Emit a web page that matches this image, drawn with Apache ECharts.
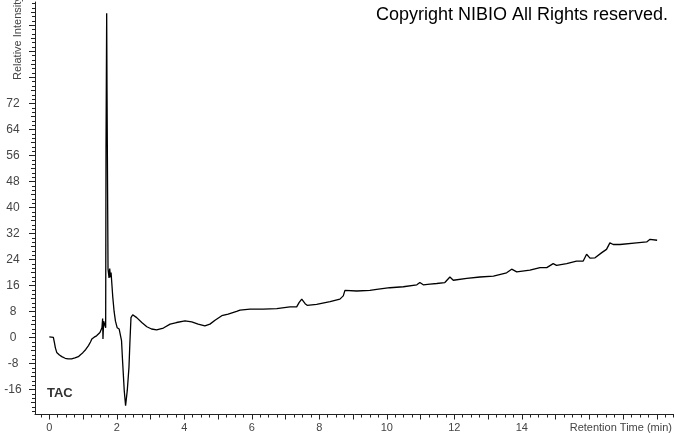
<!DOCTYPE html>
<html><head><meta charset="utf-8">
<script src="https://cdn.jsdelivr.net/npm/echarts@6/dist/echarts.min.js"></script>
<style>html,body{margin:0;padding:0;background:#fff}#c{width:674px;height:434px}</style>
</head><body><div id="c"></div>
<script>
// Retention time (min)
const retentionTime = [0, 0.12, 0.15, 0.18, 0.22, 0.30, 0.37, 0.47, 0.56, 0.66, 0.76, 0.86, 0.94, 1.00, 1.08, 1.16, 1.22, 1.26, 1.33, 1.40, 1.50, 1.56, 1.58, 1.59, 1.61, 1.64, 1.67, 1.68, 1.70, 1.71, 1.74, 1.77, 1.79, 1.81, 1.83, 1.85, 1.88, 1.92, 1.96, 2.01, 2.07, 2.11, 2.14, 2.17, 2.22, 2.26, 2.31, 2.36, 2.39, 2.42, 2.47, 2.59, 2.74, 2.89, 3.03, 3.18, 3.38, 3.58, 3.77, 4.02, 4.22, 4.41, 4.61, 4.76, 4.91, 5.11, 5.30, 5.55, 5.65, 5.95, 6.34, 6.74, 7.13, 7.33, 7.40, 7.48, 7.58, 7.64, 7.92, 8.32, 8.61, 8.71, 8.76, 8.81, 9.11, 9.50, 9.70, 10.09, 10.49, 10.89, 10.98, 11.08, 11.28, 11.48, 11.72, 11.87, 11.97, 12.37, 12.76, 13.16, 13.55, 13.70, 13.85, 14.24, 14.54, 14.74, 14.93, 15.03, 15.33, 15.62, 15.82, 15.92, 16.02, 16.17, 16.37, 16.51, 16.61, 16.71, 16.91, 17.40, 17.70, 17.80, 18.01];
// Relative intensity (TAC)
const intensity = [0.2, 0, -1.5, -3.2, -4.6, -5.4, -5.9, -6.4, -6.6, -6.6, -6.3, -5.9, -5.2, -4.6, -3.7, -2.5, -1.4, -0.5, 0.1, 0.5, 1.5, 3.0, 5.8, -0.5, 5.0, 4.5, 3, 58, 99.7, 76, 21, 18.3, 21.2, 18.5, 20, 17, 12.5, 8, 5, 3.0, 2.6, 2.0, -1, -7.1, -16.3, -21, -16.3, -9.2, -1, 6.1, 7.0, 6.1, 4.6, 3.3, 2.6, 2.3, 2.9, 4.1, 4.6, 5.1, 4.8, 4.1, 3.6, 4.1, 5.3, 6.7, 7.2, 8.0, 8.4, 8.7, 8.7, 8.9, 9.4, 9.4, 10.7, 11.8, 10.4, 9.9, 10.2, 11, 11.8, 12.8, 14.5, 14.8, 14.3, 14.5, 14.8, 15.3, 15.6, 16.2, 16.9, 16.2, 16.4, 16.6, 16.9, 18.6, 17.6, 18.2, 18.6, 18.9, 19.9, 21.0, 20.2, 20.7, 21.5, 21.5, 22.7, 22.2, 22.7, 23.5, 23.5, 25.6, 24.4, 24.5, 26.1, 27.1, 29.1, 28.6, 28.6, 29.1, 29.4, 30.2, 29.9];
// Tick labels
const xTickLabels = [0, 2, 4, 6, 8, 10, 12, 14];
const yTickLabels = [-16, -8, 0, 8, 16, 24, 32, 40, 48, 56, 64, 72];

const xMin = -0.424, xMax = 18.51;
const yMin = -23.7, yMax = 103.2;

const xMajor = [], xMinor = [];
for (let k = -1; k <= 74; k++) {
  const v = k * 0.25;
  if (v < xMin || v > xMax) continue;
  if (k % 4 === 0) xMajor.push(v); else xMinor.push(v);
}
const yMajor = [], yMed = [], yMinor = [];
for (let j = -3; j <= 13; j++) {
  for (let m = 0; m < 6; m++) {
    const v = 8 * j + m * 4 / 3;
    if (v < yMin || v > yMax) continue;
    if (m === 0) yMajor.push(v); else if (m === 3) yMed.push(v); else yMinor.push(v);
  }
}

const FONT = '"Liberation Sans", Arial, sans-serif';
const axisCol = '#222';

function xAx(ticks, len, labels) {
  return {
    type: 'value', position: 'bottom', min: xMin, max: xMax,
    axisLine: { show: !!labels, onZero: false, lineStyle: { color: axisCol, width: 1 } },
    axisTick: { show: true, length: len, customValues: ticks, lineStyle: { color: axisCol } },
    axisLabel: labels ? { customValues: labels, margin: 8, fontSize: 11, color: '#444', fontFamily: FONT } : { show: false },
    splitLine: { show: false }
  };
}
function yAx(ticks, len, labels) {
  return {
    type: 'value', position: 'left', min: yMin, max: yMax,
    axisLine: { show: !!labels, onZero: false, lineStyle: { color: axisCol, width: 1 } },
    axisTick: { show: true, length: len, customValues: ticks, lineStyle: { color: axisCol } },
    axisLabel: labels ? { customValues: labels, margin: 22, align: 'center', fontSize: 12, color: '#444', fontFamily: FONT } : { show: false },
    splitLine: { show: false }
  };
}

const chart = echarts.init(document.getElementById('c'), null, { renderer: 'canvas' });
chart.setOption({
  animation: false,
  backgroundColor: '#fff',
  grid: { left: 35, right: 0, top: 2, bottom: 19.5, containLabel: false },
  xAxis: [xAx(xMajor, 5, xTickLabels), xAx(xMinor, 3, null)],
  yAxis: [yAx(yMajor, 6, yTickLabels), yAx(yMed, 4, null), yAx(yMinor, 3, null)],
  series: [{
    type: 'line', xAxisIndex: 0, yAxisIndex: 0,
    data: retentionTime.map((t, i) => [t, intensity[i]]),
    showSymbol: false, symbol: 'none',
    lineStyle: { color: '#000', width: 1.3 }
  }],
  graphic: [
    { type: 'text', x: 668, y: 15, style: { text: 'Copyright NIBIO All Rights reserved.', align: 'right', verticalAlign: 'middle', font: '18px ' + FONT, fill: '#000' } },
    { type: 'text', x: 18, y: 80, rotation: Math.PI / 2, style: { text: 'Relative Intensity', align: 'left', verticalAlign: 'middle', font: '11px ' + FONT, fill: '#444' } },
    { type: 'text', x: 672, y: 428, style: { text: 'Retention Time (min)', align: 'right', verticalAlign: 'middle', font: '11px ' + FONT, fill: '#444' } },
    { type: 'text', x: 47, y: 393, style: { text: 'TAC', align: 'left', verticalAlign: 'middle', font: 'bold 13px ' + FONT, fill: '#333' } }
  ]
});
</script>
</body></html>
